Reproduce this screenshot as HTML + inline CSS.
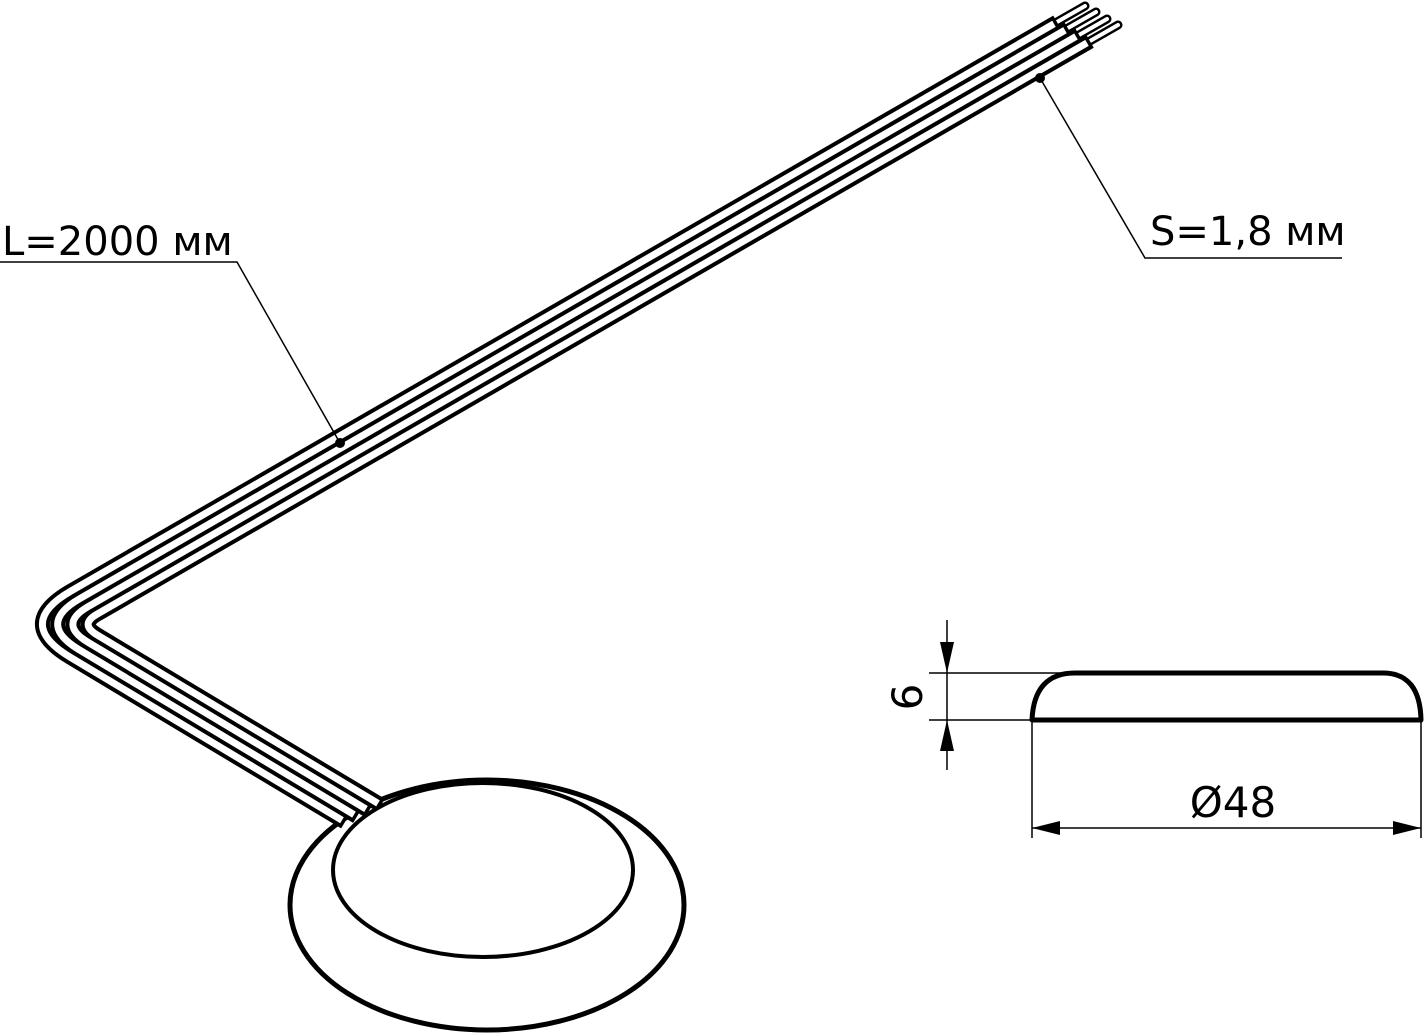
<!DOCTYPE html>
<html><head><meta charset="utf-8"><style>
html,body{margin:0;padding:0;background:#fff}
svg{display:block}
text{font-family:"DejaVu Sans","Liberation Sans",sans-serif;fill:#000}
</style></head><body>
<svg width="1425" height="1033" viewBox="0 0 1425 1033" xmlns="http://www.w3.org/2000/svg">
<!-- puck outer -->
<ellipse cx="487" cy="905" rx="197" ry="125" fill="#fff" stroke="#000" stroke-width="5"/>
<!-- conductors -->
<g fill="none" stroke-linecap="round">
<g stroke="#000" stroke-width="9">
<line x1="1050" y1="26" x2="1085" y2="6"/>
<line x1="1061" y1="32" x2="1096" y2="12"/>
<line x1="1072" y1="39" x2="1107" y2="19"/>
<line x1="1083" y1="45" x2="1118" y2="25"/>
</g>
<g stroke="#fff" stroke-width="4">
<line x1="1050" y1="26" x2="1085" y2="6"/>
<line x1="1061" y1="32" x2="1096" y2="12"/>
<line x1="1072" y1="39" x2="1107" y2="19"/>
<line x1="1083" y1="45" x2="1118" y2="25"/>
</g>
</g>
<!-- wires -->
<g fill="none" stroke-linejoin="round">
<g stroke="#000" stroke-width="15">
<path d="M1057,22.1 L70.7,591.2 Q14.4,623.7 70.1,657.1 L345,822"/>
<path d="M1068,28.5 L79.4,598.9 Q36.1,623.9 79,649.6 L357,816.4"/>
<path d="M1079,34.8 L88.1,606.6 Q57.8,624.1 87.8,642.1 L369,810.8"/>
<path d="M1090,41.2 L96.8,614.3 Q79.5,624.3 96.6,634.6 L381,805.2"/>
</g>
<g stroke="#fff" stroke-width="7">
<path d="M1054,23.8 L70.7,591.2 Q14.4,623.7 70.1,657.1 L342,820.2"/>
<path d="M1065,30.2 L79.4,598.9 Q36.1,623.9 79,649.6 L354,814.6"/>
<path d="M1076,36.5 L88.1,606.6 Q57.8,624.1 87.8,642.1 L366,809"/>
<path d="M1087,42.9 L96.8,614.3 Q79.5,624.3 96.6,634.6 L378,803.4"/>
</g>
</g>
<!-- puck inner -->
<ellipse cx="483" cy="870" rx="150" ry="87" fill="#fff" stroke="#000" stroke-width="4"/>
<!-- leaders -->
<g stroke="#000" stroke-width="1.5" fill="none">
<polyline points="0,262 237,262 340,443"/>
<polyline points="1040,78 1145,258 1342,258"/>
</g>
<circle cx="340" cy="443" r="5"/>
<circle cx="1040" cy="78" r="5"/>
<text x="2" y="255" font-size="40">L=2000 мм</text>
<text x="1150" y="245" font-size="40">S=1,8 мм</text>
<!-- side view -->
<path d="M1032,720 Q1034,673 1075,673 L1383,673 Q1420,673 1421,720 Z" fill="#fff" stroke="#000" stroke-width="5" stroke-linejoin="round"/>
<g stroke="#000" stroke-width="1.5">
<line x1="929" y1="673" x2="1075" y2="673"/>
<line x1="929" y1="720" x2="1032" y2="720"/>
<line x1="947" y1="620" x2="947" y2="770"/>
<line x1="1032" y1="722" x2="1032" y2="838"/>
<line x1="1421" y1="722" x2="1421" y2="838"/>
<line x1="1032" y1="828" x2="1421" y2="828"/>
</g>
<polygon points="940,642 954,642 947,673"/>
<polygon points="940,751 954,751 947,720"/>
<polygon points="1032,828 1060,821 1060,835"/>
<polygon points="1421,828 1393,821 1393,835"/>
<text x="1233" y="817" font-size="42" text-anchor="middle">Ø48</text>
<text x="0" y="0" font-size="42" text-anchor="middle" transform="translate(922,697) rotate(-90)">6</text>
</svg>
</body></html>
